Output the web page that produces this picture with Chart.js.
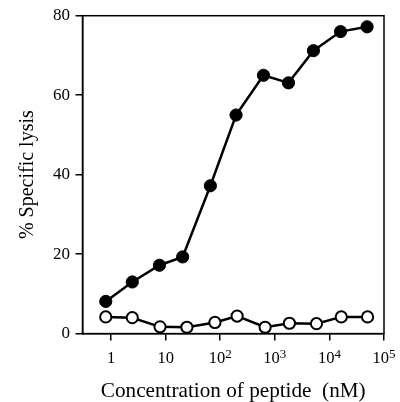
<!DOCTYPE html>
<html>
<head>
<meta charset="utf-8">
<script src="https://cdn.jsdelivr.net/npm/chart.js@4"></script>
<style>
html,body{margin:0;padding:0;background:#fff;}
#wrap{width:400px;height:402px;}
</style>
</head>
<body>
<div id="wrap"><canvas id="c" width="400" height="402"></canvas></div>
<script>
// Data
const xFilled = [0.8, 2.45, 7.7, 20.5, 66, 195, 620, 1780, 5100, 16000, 49000];
const yFilled = [8.1, 13.0, 17.2, 19.3, 37.2, 55.0, 65.0, 63.1, 71.2, 76.0, 77.2];
const xOpen   = [0.8, 2.45, 7.9, 24.5, 80, 204, 665, 1850, 5800, 16500, 50000];
const yOpen   = [4.2, 4.0, 1.7, 1.6, 2.8, 4.4, 1.6, 2.6, 2.5, 4.2, 4.2];
const xTicks  = [1, 10, 100, 1000, 10000, 100000];
const xTickBase = ['1', '10', '10', '10', '10', '10'];
const xTickExp  = ['', '', '2', '3', '4', '5'];
const yTicks  = [0, 20, 40, 60, 80];

const FONT = "'Liberation Serif', 'Times New Roman', serif";

const pts = (xs, ys) => xs.map((x, i) => ({x: x, y: ys[i]}));

const frame = {
  id: 'frame',
  afterDraw(chart) {
    const {ctx, chartArea: a} = chart;
    ctx.save();
    ctx.strokeStyle = '#000';
    ctx.lineWidth = 1.5;
    ctx.strokeRect(a.left, a.top, a.right - a.left, a.bottom - a.top);
    // x tick labels with superscripts
    const xs = chart.scales.x;
    ctx.fillStyle = '#000';
    ctx.textBaseline = 'alphabetic';
    xTicks.forEach((v, i) => {
      const px = xs.getPixelForValue(v);
      const base = xTickBase[i], ex = xTickExp[i];
      ctx.font = '16.5px ' + FONT;
      const bw = ctx.measureText(base).width;
      ctx.font = '13px ' + FONT;
      const ew = ex ? ctx.measureText(ex).width : 0;
      const total = bw + ew;
      const x0 = px - total / 2;
      const yb = a.bottom + 29;
      ctx.font = '16.5px ' + FONT;
      ctx.textAlign = 'left';
      ctx.fillText(base, x0, yb);
      if (ex) {
        ctx.font = '13px ' + FONT;
        ctx.fillText(ex, x0 + bw, yb - 5);
      }
    });
    ctx.restore();
  }
};

new Chart(document.getElementById('c'), {
  type: 'line',
  data: {
    datasets: [
      {
        data: pts(xFilled, yFilled),
        borderColor: '#000',
        backgroundColor: '#000',
        pointBackgroundColor: '#000',
        pointBorderColor: '#000',
        borderWidth: 2.5,
        pointRadius: 6.1,
        pointBorderWidth: 1,
        tension: 0
      },
      {
        data: pts(xOpen, yOpen),
        borderColor: '#000',
        backgroundColor: '#fff',
        pointBackgroundColor: '#fff',
        pointBorderColor: '#000',
        borderWidth: 2.5,
        pointRadius: 5.6,
        pointBorderWidth: 2,
        tension: 0
      }
    ]
  },
  options: {
    responsive: false,
    animation: false,
    events: [],
    layout: {padding: {left: 14, right: 13.3, top: 15.7, bottom: 0}},
    plugins: {legend: {display: false}, tooltip: {enabled: false}},
    scales: {
      x: {
        type: 'logarithmic',
        min: 0.3,
        max: 100000,
        afterBuildTicks: (s) => { s.ticks = xTicks.map(v => ({value: v})); },
        grid: {drawOnChartArea: false, drawTicks: true, tickLength: 7, color: '#000', lineWidth: 1.5},
        border: {display: true, color: '#000', width: 1.5},
        ticks: {color: 'rgba(0,0,0,0)', font: {family: FONT, size: 16}, padding: 4, maxRotation: 0, autoSkip: false,
                callback: (v, i) => xTickBase[i] + xTickExp[i]},
        title: {display: true, text: 'Concentration of peptide  (nM)', color: '#000',
                font: {family: FONT, size: 21.2, lineHeight: 1}, padding: {top: 13, bottom: 0}}
      },
      y: {
        min: 0,
        max: 80,
        afterBuildTicks: (s) => { s.ticks = yTicks.map(v => ({value: v})); },
        grid: {drawOnChartArea: false, drawTicks: true, tickLength: 7, color: '#000', lineWidth: 1.5},
        border: {display: true, color: '#000', width: 1.5},
        ticks: {color: '#000', font: {family: FONT, size: 17}, padding: 5.5},
        title: {display: true, text: '% Specific lysis', color: '#000',
                font: {family: FONT, size: 20, lineHeight: 1}, padding: {top: 3.5, bottom: 10}}
      }
    }
  },
  plugins: [frame]
});
</script>
</body>
</html>
